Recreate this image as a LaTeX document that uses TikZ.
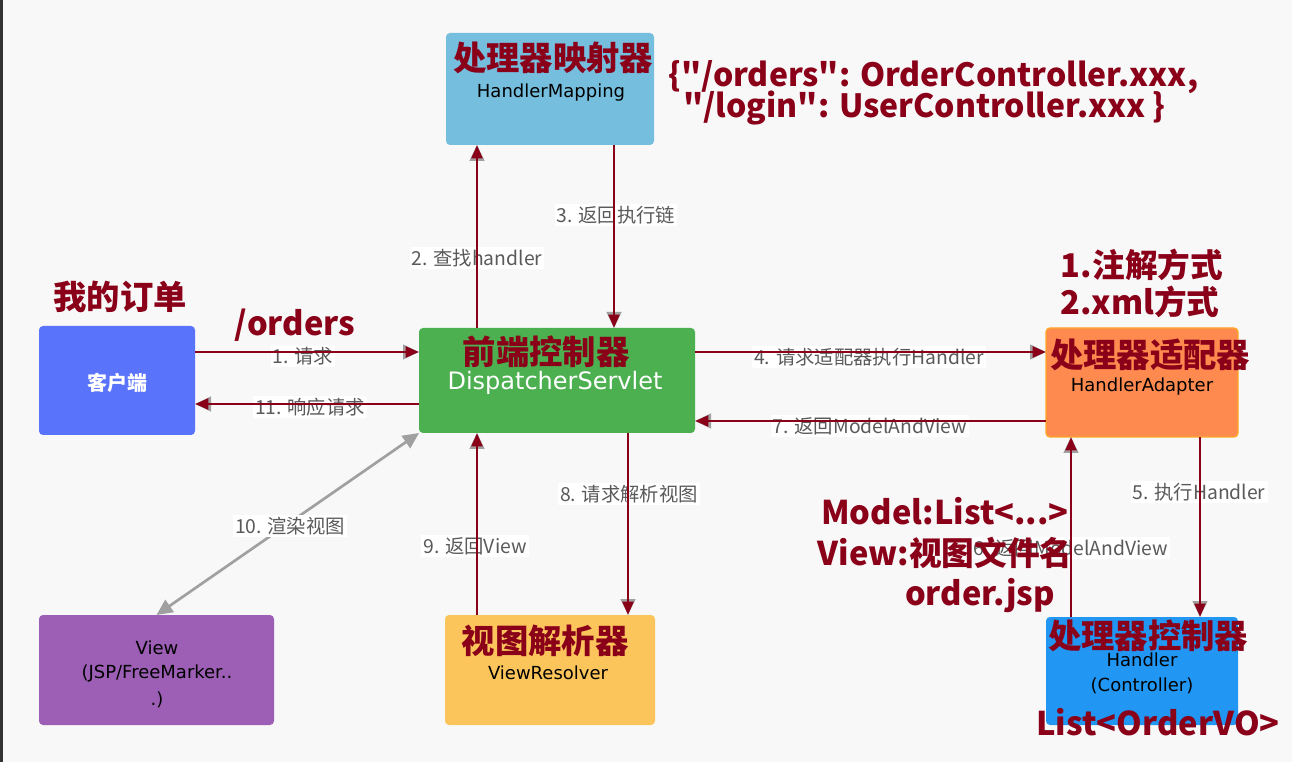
\documentclass[tikz,border=0pt]{standalone}
\usepackage{fontspec}
\setmainfont{Noto Sans CJK SC}[Ligatures=TeXOff]
\newfontfamily\boxfont{DejaVu Sans}[Ligatures=TeXOff]
\usetikzlibrary{arrows.meta}
\definecolor{bgc}{HTML}{F8F8F8}
\definecolor{dred}{HTML}{8A0019}
\definecolor{lgrey}{HTML}{A0A0A0}
\definecolor{lbltxt}{HTML}{5A5A5A}
\definecolor{hmc}{HTML}{76BEDE}
\definecolor{clc}{HTML}{5A73FB}
\definecolor{dsc}{HTML}{4CAF50}
\definecolor{hac}{HTML}{FF8A50}
\definecolor{hab}{HTML}{FFA726}
\definecolor{hdc}{HTML}{2196F3}
\definecolor{vwc}{HTML}{9C5FB5}
\definecolor{vrc}{HTML}{FCC55B}
\tikzset{
  box/.style={rounded corners=3pt, inner sep=0pt, outer sep=0pt},
  bigred/.style={text=dred, font=\bfseries\fontsize{25}{27}\selectfont, inner sep=0pt},
  redtxt/.style={text=dred, font=\bfseries\fontsize{24.5}{26}\selectfont, inner sep=0pt},
  jsontxt/.style={text=dred, font=\bfseries\fontsize{24}{26}\selectfont, inner sep=0pt},
  eng/.style={text=black, font=\boxfont\fontsize{13.5}{15}\selectfont, inner sep=0pt},
  lbl/.style={text=lbltxt, fill=white, font=\fontsize{14.5}{16}\selectfont, inner sep=1.5pt},
  greyarr/.style={draw=lgrey, line width=2pt, -{Triangle[length=12pt,width=11pt]}},
  redarr/.style={draw=dred, line width=2.2pt, -{Triangle[length=10pt,width=8pt]}},
}
\begin{document}
\begin{tikzpicture}[x=0.75pt,y=-0.75pt]
\fill[bgc] (0,0) rectangle (1292,762);
\useasboundingbox (0,0) rectangle (1292,762);
\fill[black!80] (0,0) rectangle (3,762);
% boxes
\node[box, fill=hmc, minimum width=156pt, minimum height=84pt] (hm) at (550,89) {};
\node[box, fill=clc, minimum width=117pt, minimum height=81.75pt] (client) at (117,380.5) {};
\node[box, fill=dsc, minimum width=207pt, minimum height=78.75pt] (ds) at (557,380.5) {};
\node[box, fill=hac, draw=hab, line width=1pt, minimum width=144pt, minimum height=81.75pt] (ha) at (1142,382.5) {};
\node[box, fill=hdc, minimum width=144pt, minimum height=81pt] (hd) at (1142,671) {};
\node[box, fill=vwc, minimum width=176.25pt, minimum height=82.5pt] (view) at (156.5,670) {};
\node[box, fill=vrc, minimum width=157.5pt, minimum height=82.5pt] (vr) at (550,670) {};
% lanes
\coordinate (y352) at (0,352);
\coordinate (y404) at (0,404);
\coordinate (y421) at (0,421);
\coordinate (x477) at (477,0);
\coordinate (x614) at (614,0);
\coordinate (x628) at (628,0);
\coordinate (x1071) at (1071,0);
\coordinate (x1200) at (1200,0);
% grey underlying arrows
\draw[greyarr] (client.east |- y352) -- (ds.west |- y352);
\draw[greyarr] (ds.west |- y404) -- (client.east |- y404);
\draw[greyarr] (ds.north -| x477) -- (hm.south -| x477);
\draw[greyarr] (hm.south -| x614) -- (ds.north -| x614);
\draw[greyarr] (ds.east |- y352) -- (ha.west |- y352);
\draw[greyarr] (ha.west |- y421) -- (ds.east |- y421);
\draw[greyarr] (ha.south -| x1200) -- (hd.north -| x1200);
\draw[greyarr] (hd.north -| x1071) -- (ha.south -| x1071);
\draw[greyarr] (ds.south -| x628) -- (vr.north -| x628);
\draw[greyarr] (vr.north -| x477) -- (ds.south -| x477);
\draw[draw=lgrey, line width=2pt, {Triangle[length=12pt,width=11pt]}-{Triangle[length=12pt,width=11pt]}] (ds.south west) -- (view.north);
% labels
\node[lbl] (l1) at (303,356) {1. 请求};
\node[lbl] (l11) at (310,407) {11. 响应请求};
\node[lbl] (l2) at (477,258) {2. 查找handler};
\node[lbl] (l3) at (616,215) {3. 返回执行链};
\node[lbl] (l4) at (869,357) {4. 请求适配器执行Handler};
\node[lbl] (l7) at (870,426) {7. 返回ModelAndView};
\node[lbl] (l5) at (1199,492) {5. 执行Handler};
\node[lbl] (l6) at (1071,548) {6. 返回ModelAndView};
\node[lbl] (l8) at (629,494) {8. 请求解析视图};
\node[lbl] (l9) at (475,546) {9. 返回View};
\node[lbl] (l10) at (290,526) {10. 渲染视图};
% red arrows
\draw[redarr] (client.east |- y352) -- (ds.west |- y352);
\draw[redarr] (ds.west |- y404) -- (client.east |- y404);
\draw[redarr] (ds.north -| x477) -- (hm.south -| x477);
\draw[redarr] (hm.south -| x614) -- (ds.north -| x614);
\draw[redarr] (ds.east |- y352) -- (ha.west |- y352);
\draw[redarr] (ha.west |- y421) -- (ds.east |- y421);
\draw[redarr] (ha.south -| x1200) -- (hd.north -| x1200);
\draw[redarr] (hd.north -| x1071) -- (ha.south -| x1071);
\draw[redarr] (ds.south -| x628) -- (vr.north -| x628);
\draw[redarr] (vr.north -| x477) -- (ds.south -| x477);
% box texts
\node[bigred] (t-hm) at (553,58) {处理器映射器};
\node[eng] (e-hm) at (551,93) {HandlerMapping};
\node[text=white, font=\bfseries\fontsize{15}{17}\selectfont, inner sep=0pt] (e-cl) at (117,383) {客户端};
\node[bigred] (t-ds) at (546,352) {前端控制器};
\node[text=white, font=\boxfont\fontsize{18}{20}\selectfont, inner sep=0pt] (e-ds) at (555,383) {DispatcherServlet};
\node[bigred] (t-ha) at (1150,355) {处理器适配器};
\node[eng] (e-ha) at (1142,387) {HandlerAdapter};
\node[bigred] (t-hd) at (1148,636) {处理器控制器};
\node[eng] (e-hd1) at (1142,660) {Handler};
\node[eng] (e-hd2) at (1142,686) {(Controller)};
\node[eng] (e-v1) at (157,648) {View};
\node[eng] (e-v2) at (157,673) {(JSP/FreeMarker..};
\node[eng] (e-v3) at (157,700) {.)};
\node[bigred] (t-vr) at (545,641) {视图解析器};
\node[eng] (e-vr) at (548,673) {ViewResolver};
% annotations
\node[jsontxt, anchor=west] (json1) at (668,77) {\{"/orders": OrderController.xxx,};
\node[jsontxt, anchor=west] (json2) at (683,108) {"/login": UserController.xxx \}};
\node[bigred] (mine) at (120,297) {我的订单};
\node[redtxt] (orders) at (295,325) {/orders};
\node[redtxt] (ann1) at (1142,265) {1.注解方式};
\node[redtxt] (ann2) at (1140,302) {2.xml方式};
\node[redtxt] (lov) at (1158,722) {List<OrderVO>};
\node[redtxt] (mdl) at (945,511) {Model:List<...>};
\node[redtxt] (vw) at (945,553) {View:视图文件名};
\node[redtxt] (ojsp) at (980,596) {order.jsp};
\end{tikzpicture}
\end{document}
